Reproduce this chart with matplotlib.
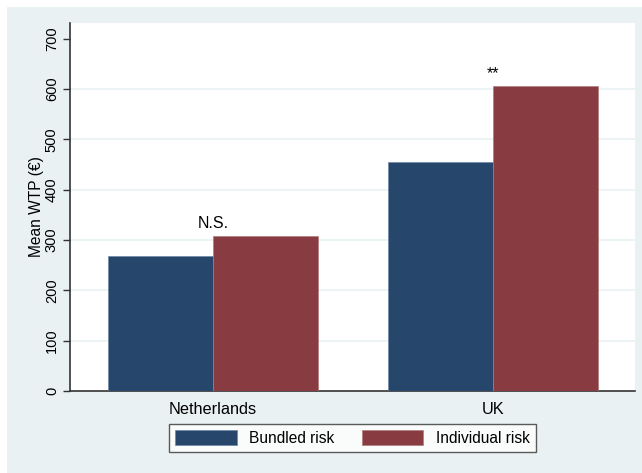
import numpy as np
import matplotlib.pyplot as plt
from matplotlib.patches import Patch

plt.rcParams['font.family'] = ['Liberation Sans', 'DejaVu Sans']

countries = ['Netherlands', 'UK']
bundled = [268, 455]
individual = [308, 605]
sig_labels = ['N.S.', '**']
series_names = ['Bundled risk', 'Individual risk']

blue = '#27466c'
red = '#883b40'
bg = '#e9f1f2'

fig = plt.figure(figsize=(6.42, 4.73), dpi=100)
fig.patch.set_facecolor('white')
# light outer panel, leaving a thin white border
fig.patches.append(plt.Rectangle((7 / 642, 0), 1 - 7 / 642, 1 - 7 / 473,
                                 transform=fig.transFigure, facecolor=bg,
                                 edgecolor='none', zorder=-10))

ax = fig.add_axes([70 / 642, 1 - 391 / 473, 565 / 642, 368 / 473])
ax.set_facecolor('white')

x = np.arange(len(countries))
w = 0.375
ax.bar(x - w / 2, bundled, w, color=blue, edgecolor='#6d87a3', linewidth=0.5, zorder=3)
ax.bar(x + w / 2, individual, w, color=red, edgecolor='#b07a7d', linewidth=0.5, zorder=3)

for i, lab in enumerate(sig_labels):
    top = max(bundled[i], individual[i])
    ax.text(x[i], top + 16, lab, ha='center', va='baseline', fontsize=11.5, zorder=4)

ax.set_xlim(-0.51, 1.506)
ax.set_ylim(0, 731)
ax.set_yticks(range(0, 701, 100))
ax.set_yticklabels([str(v) for v in range(0, 701, 100)], rotation=90, va='center', fontsize=10.5)
for v in range(100, 700, 100):
    ax.axhline(v, color='#eaf2f3', linewidth=1.2, zorder=1)

ax.set_xticks(x)
ax.set_xticklabels(countries, fontsize=11.7)
ax.tick_params(axis='x', length=0, pad=8)
ax.tick_params(axis='y', length=5, width=1, color='#333333', pad=3)
ax.set_ylabel('Mean WTP (€)', fontsize=11.2, labelpad=1)

for s in ['top', 'right']:
    ax.spines[s].set_visible(False)
for s in ['left', 'bottom']:
    ax.spines[s].set_color('#333333')
    ax.spines[s].set_linewidth(1.2)

handles = [Patch(facecolor=blue, edgecolor='#6d87a3', linewidth=0.5),
           Patch(facecolor=red, edgecolor='#b07a7d', linewidth=0.5)]
leg = fig.legend(handles, series_names, loc='center', bbox_to_anchor=(352.5 / 642, 1 - 438 / 473),
                 ncol=2, fontsize=11.2, frameon=True, fancybox=False, edgecolor='#333333',
                 handlelength=3.95, handleheight=1.05, columnspacing=1.75, handletextpad=0.8,
                 borderpad=0.4, borderaxespad=0)
leg.get_frame().set_linewidth(1.0)

fig.savefig('out.png', dpi=100, facecolor=fig.get_facecolor())
